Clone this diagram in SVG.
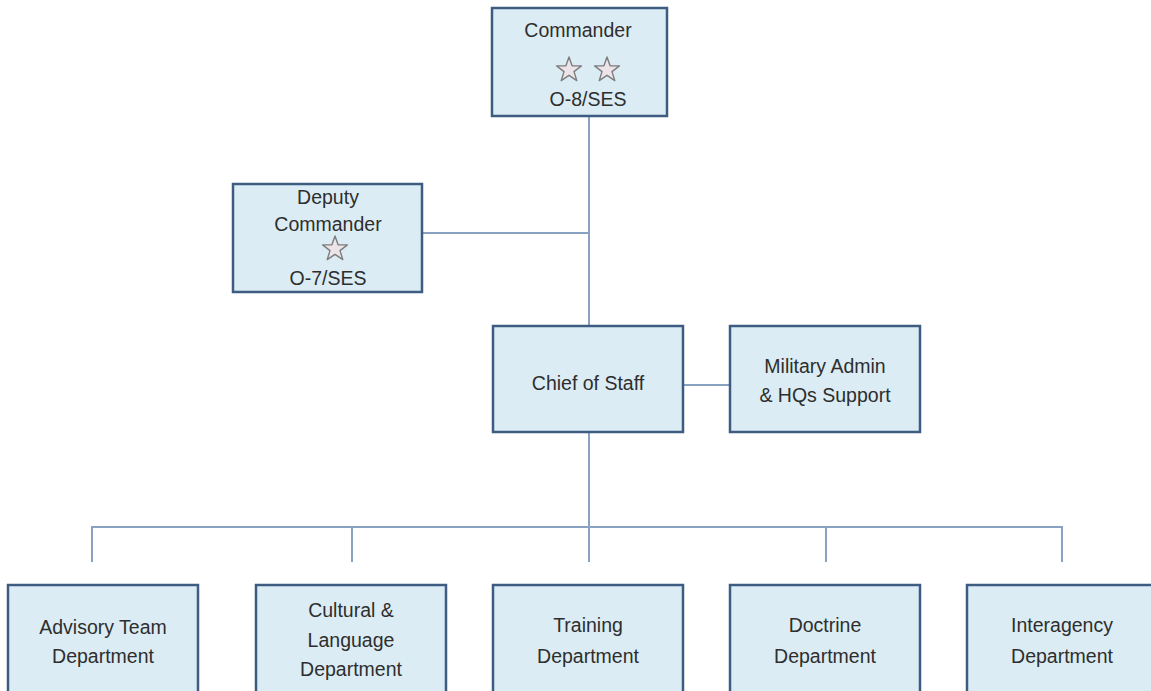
<svg xmlns="http://www.w3.org/2000/svg" width="1151" height="691" viewBox="0 0 1151 691">
<defs>
<style>
.box{fill:#dbecf4;stroke:#3e5b82;stroke-width:2.5}
.t{font-family:"Liberation Sans",Arial,sans-serif;font-size:19.5px;fill:#2e2e2e;text-anchor:middle}
.c{fill:none;stroke:#8aa2c2;stroke-width:2}
.star{fill:#ece4e8;stroke:#7d7d7d;stroke-width:1.4;stroke-linejoin:round}
</style>
<path id="st" d="M0,-13 L3.1,-4.3 L12.4,-4.1 L5,1.6 L7.8,10.6 L0,5.3 L-7.8,10.6 L-5,1.6 L-12.4,-4.1 L-3.1,-4.3 Z"/>
</defs>
<rect width="1151" height="691" fill="#ffffff"/>
<g id="connectors">
<path class="c" d="M589,116 V326"/>
<path class="c" d="M422,233 H589"/>
<path class="c" d="M683,385 H730"/>
<path class="c" d="M589,432 V562"/>
<path class="c" d="M92,562 V527 H1062 V562"/>
<path class="c" d="M352,527 V562"/>
<path class="c" d="M826,527 V562"/>
</g>
<g id="commander">
<rect class="box" x="492" y="8" width="175" height="108"/>
<text class="t" x="578" y="37">Commander</text>
<use href="#st" class="star" x="569" y="70"/>
<use href="#st" class="star" x="607" y="70"/>
<text class="t" x="588" y="106">O-8/SES</text>
</g>
<g id="deputy">
<rect class="box" x="233" y="184" width="189" height="108"/>
<text class="t" x="328" y="204">Deputy</text>
<text class="t" x="328" y="231">Commander</text>
<use href="#st" class="star" x="335" y="249"/>
<text class="t" x="328" y="285">O-7/SES</text>
</g>
<g id="chief">
<rect class="box" x="493" y="326" width="190" height="106"/>
<text class="t" x="588" y="390">Chief of Staff</text>
</g>
<g id="military">
<rect class="box" x="730" y="326" width="190" height="106"/>
<text class="t" x="825" y="373">Military Admin</text>
<text class="t" x="825" y="402">&amp; HQs Support</text>
</g>
<g id="advisory">
<rect class="box" x="8" y="585" width="190" height="115"/>
<text class="t" x="103" y="634">Advisory Team</text>
<text class="t" x="103" y="663">Department</text>
</g>
<g id="cultural">
<rect class="box" x="256" y="585" width="190" height="115"/>
<text class="t" x="351" y="617">Cultural &amp;</text>
<text class="t" x="351" y="647">Language</text>
<text class="t" x="351" y="676">Department</text>
</g>
<g id="training">
<rect class="box" x="493" y="585" width="190" height="115"/>
<text class="t" x="588" y="632">Training</text>
<text class="t" x="588" y="663">Department</text>
</g>
<g id="doctrine">
<rect class="box" x="730" y="585" width="190" height="115"/>
<text class="t" x="825" y="632">Doctrine</text>
<text class="t" x="825" y="663">Department</text>
</g>
<g id="interagency">
<rect class="box" x="967" y="585" width="190" height="115"/>
<text class="t" x="1062" y="632">Interagency</text>
<text class="t" x="1062" y="663">Department</text>
</g>
</svg>
